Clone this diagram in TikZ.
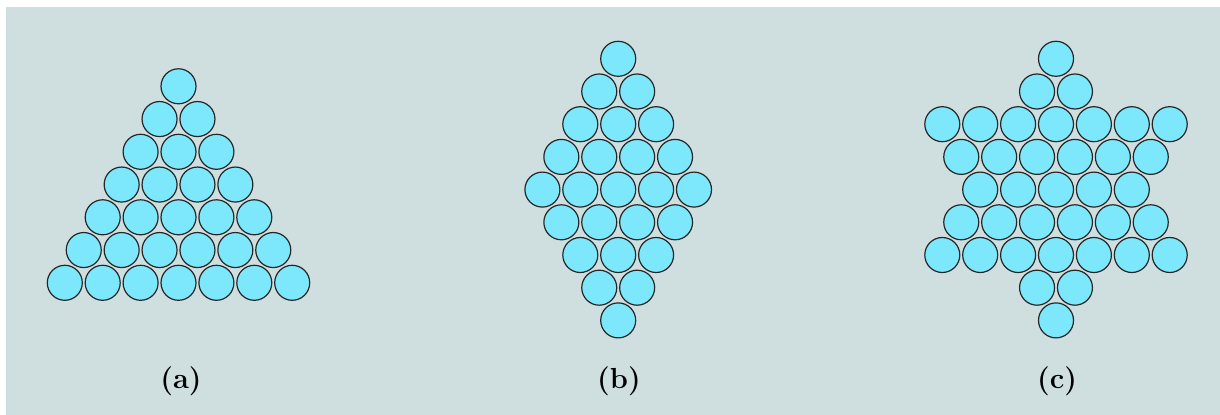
\documentclass[tikz,border=0pt]{standalone}
\usetikzlibrary{positioning}
\definecolor{panel}{RGB}{207,222,223}
\definecolor{ballblue}{RGB}{125,232,252}
\begin{document}
\begin{tikzpicture}[
    x=0.5pt, y=-0.5pt,
    ball/.style={circle, draw=black!85, line width=0.6pt, fill=ballblue, minimum size=17.5pt, inner sep=0pt},
    caption/.style={font=\fontsize{14.5}{16}\selectfont\bfseries},
]

% Panel
\useasboundingbox (0,0) rectangle (1220,415);
\fill[white] (0,0) rectangle (1220,415);
\fill[panel] (6,7) rectangle (1220,415);

% (a) triangle
\foreach \r in {0,...,6}
  \foreach \i in {0,...,\r}
    \node[ball] (a-\r-\i) at ({178.5+(\i-\r/2)*37.9}, {86.3+\r*32.75}) {};

% (b) diamond
\foreach \n [count=\r from 0] in {1,2,3,4,5,4,3,2,1}
  \foreach \i in {1,...,\n}
    \node[ball] (b-\r-\i) at ({618.2+(\i-(\n+1)/2)*37.9}, {58.8+\r*32.7}) {};

% (c) star
\foreach \n [count=\r from 0] in {1,2,7,6,5,6,7,2,1}
  \foreach \i in {1,...,\n}
    \node[ball] (c-\r-\i) at ({1056+(\i-(\n+1)/2)*37.9}, {58.8+\r*32.7}) {};

% Captions
\node[caption] (cap-a) at (181,381) {(a)};
\node[caption] (cap-b) at (619,381) {(b)};
\node[caption] (cap-c) at (1057,381) {(c)};

\end{tikzpicture}
\end{document}
